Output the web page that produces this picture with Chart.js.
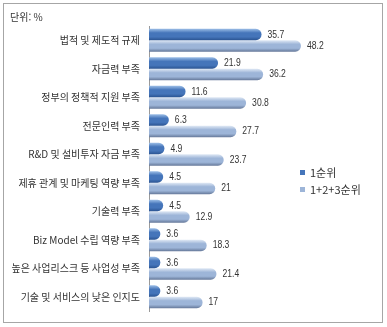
<!DOCTYPE html>
<html lang="ko">
<head>
    <meta charset="UTF-8">
    <title>단위: %</title>
    <script src="https://cdn.jsdelivr.net/npm/chart.js@4.4.1/dist/chart.umd.min.js"></script>
    <style>
        html, body { margin: 0; padding: 0; background: #fff; }
        #wrap { width: 387px; height: 327px; }
    </style>
</head>
<body>
    <div id="wrap"><canvas id="chart"></canvas></div>

    <script>
        const categories = [
            '법적 및 제도적 규제',
            '자금력 부족',
            '정부의 정책적 지원 부족',
            '전문인력 부족',
            'R&D 및 설비투자 자금 부족',
            '제휴 관계 및 마케팅 역량 부족',
            '기술력 부족',
            'Biz Model 수립 역량 부족',
            '높은 사업리스크 등 사업성 부족',
            '기술 및 서비스의 낮은 인지도'
        ];
        const firstRank = [35.7, 21.9, 11.6, 6.3, 4.9, 4.5, 4.5, 3.6, 3.6, 3.6];
        const topThree = [48.2, 36.2, 30.8, 27.7, 23.7, 21, 12.9, 18.3, 21.4, 17];
        const seriesNames = ['1순위', '1+2+3순위'];

        const labelFont = "'Noto Sans CJK KR', 'Noto Sans', sans-serif";
        const numFont = "'Liberation Sans', Arial, sans-serif";

        const darkStops = ['#9bbde6', '#4575ba', '#2a5391'];
        const lightStops = ['#e0e9f5', '#9db5d8', '#66799a'];

        // 막대마다 세로 그라데이션
        function barGradient(ctx, stops) {
            const c = ctx.chart;
            const y = c.scales.y;
            if (!c.chartArea || !y || ctx.type !== 'data') return stops[1];
            const band = (c.chartArea.bottom - c.chartArea.top) / categories.length;
            const cat = band * 0.8;
            const mid = y.getPixelForValue(ctx.dataIndex) + (ctx.datasetIndex === 0 ? -cat / 4 : cat / 4);
            const h = cat / 2;
            const g = c.ctx.createLinearGradient(0, mid - h / 2, 0, mid + h / 2);
            g.addColorStop(0, stops[0]);
            g.addColorStop(0.35, stops[1]);
            g.addColorStop(0.7, stops[1]);
            g.addColorStop(1, stops[2]);
            return g;
        }

        const decor = {
            id: 'decor',
            afterDatasetsDraw(chart) {
                const ctx = chart.ctx;
                ctx.save();
                ctx.fillStyle = '#333';
                ctx.font = '11px ' + numFont;
                ctx.textBaseline = 'middle';
                ctx.textAlign = 'left';
                chart.data.datasets.forEach((ds, di) => {
                    chart.getDatasetMeta(di).data.forEach((bar, i) => {
                        ctx.save();
                        ctx.translate(bar.x + 6, bar.y);
                        ctx.scale(0.78, 1);
                        ctx.fillText(String(ds.data[i]), 0, 0);
                        ctx.restore();
                    });
                });

                // 범례
                const colors = [darkStops[1], lightStops[1]];
                ctx.font = '11px ' + labelFont;
                seriesNames.forEach((name, i) => {
                    const ly = 173 + i * 17;
                    ctx.fillStyle = colors[i];
                    ctx.fillRect(300, ly - 3, 5, 5);
                    ctx.fillStyle = '#333';
                    ctx.fillText(name, 310, ly);
                });

                // 단위
                ctx.font = '10px ' + labelFont;
                ctx.fillText('단위: %', 10, 17);

                // 테두리
                ctx.strokeStyle = '#a6a6a6';
                ctx.lineWidth = 1;
                ctx.strokeRect(3.5, 3.5, 379, 319);
                ctx.restore();
            }
        };

        new Chart(document.getElementById('chart'), {
            type: 'bar',
            data: {
                labels: categories,
                datasets: [
                    {
                        label: seriesNames[0],
                        data: firstRank,
                        backgroundColor: c => barGradient(c, darkStops),
                        borderRadius: 6,
                        borderSkipped: 'start'
                    },
                    {
                        label: seriesNames[1],
                        data: topThree,
                        backgroundColor: c => barGradient(c, lightStops),
                        borderRadius: 6,
                        borderSkipped: 'start'
                    }
                ]
            },
            options: {
                indexAxis: 'y',
                responsive: true,
                maintainAspectRatio: false,
                animation: false,
                categoryPercentage: 0.8,
                barPercentage: 1.0,
                layout: { padding: { top: 26, bottom: 16, right: 11, left: 0 } },
                scales: {
                    x: {
                        display: false,
                        min: 0,
                        max: 72
                    },
                    y: {
                        afterFit: s => { s.width = 149; },
                        grid: { display: false, drawTicks: false },
                        border: { display: true, color: '#9a9a9a', width: 1 },
                        ticks: {
                            padding: 9,
                            color: '#333',
                            font: { size: 10, family: labelFont }
                        }
                    }
                },
                plugins: {
                    legend: { display: false },
                    tooltip: { enabled: false }
                }
            },
            plugins: [decor]
        });
    </script>
</body>
</html>
